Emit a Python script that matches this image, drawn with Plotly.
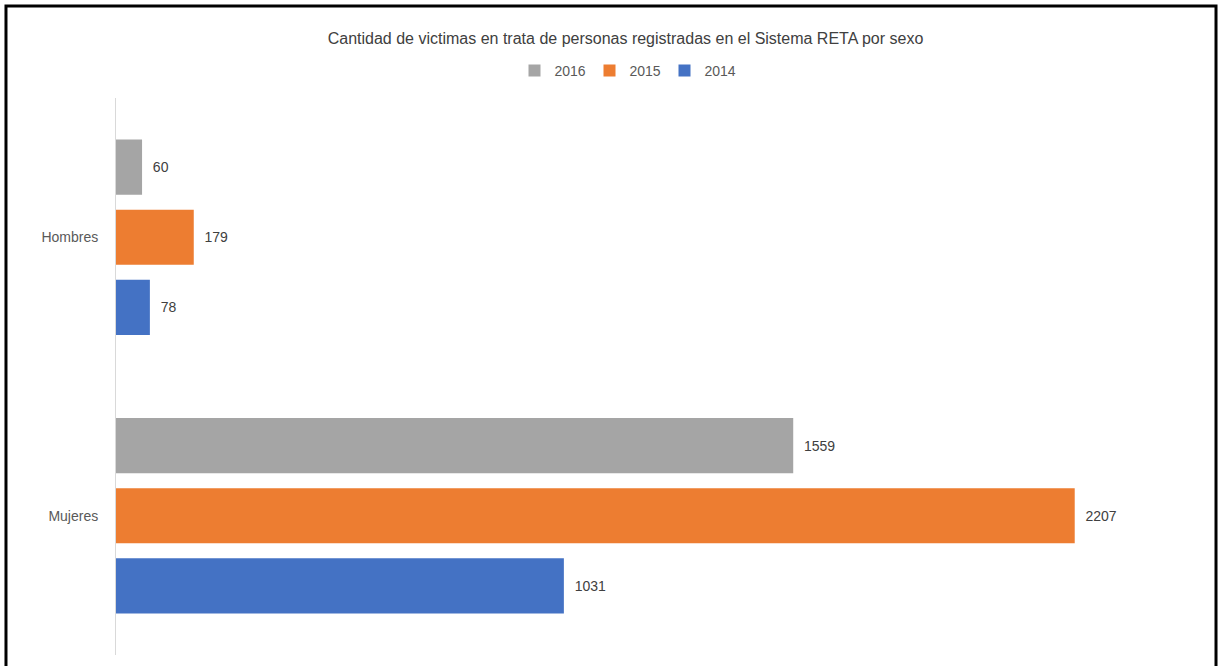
import plotly.graph_objects as go

categories = ["Hombres", "Mujeres"]
years = ["2014", "2015", "2016"]
values_2014 = [78, 1031]
values_2015 = [179, 2207]
values_2016 = [60, 1559]
colors = {"2014": "#4472C4", "2015": "#ED7D31", "2016": "#A5A5A5"}

series = {"2014": values_2014, "2015": values_2015, "2016": values_2016}

FONT = "Liberation Sans"

fig = go.Figure()
for yr in years:
    vals = series[yr]
    fig.add_trace(go.Bar(
        y=categories, x=vals, name=yr, orientation="h",
        marker=dict(color=colors[yr], line=dict(width=0)),
        text=[f"  {v}" for v in vals], textposition="outside",
        textfont=dict(size=14, color="#404040", family=FONT),
        cliponaxis=False,
    ))

fig.update_layout(
    width=1219, height=666,
    margin=dict(l=116, r=17, t=98, b=11),
    paper_bgcolor="white", plot_bgcolor="white",
    barmode="group", bargap=0.245, bargroupgap=0.214,
    title=dict(text="Cantidad de victimas en trata de personas registradas en el Sistema RETA por sexo",
               x=625.5 / 1219, xanchor="center", y=1 - 38 / 666, yanchor="middle",
               xref="container", yref="container",
               font=dict(size=16, color="#404040", family=FONT)),
    legend=dict(orientation="h", x=627 / 1219, xanchor="center", y=1 - 71 / 666, yanchor="middle",
                xref="container", yref="container", traceorder="reversed",
                itemwidth=30, entrywidth=30, entrywidthmode="pixels",
                font=dict(size=14, color="#595959", family=FONT)),
    showlegend=True,
    xaxis=dict(range=[0, 2500], showticklabels=False, showgrid=False, zeroline=False,
               showline=False, ticks=""),
    yaxis=dict(categoryorder="array", categoryarray=["Mujeres", "Hombres"],
               showline=True, linecolor="#D9D9D9", linewidth=1, ticks="",
               showgrid=False, ticklabelstandoff=14,
               tickfont=dict(size=14, color="#595959", family=FONT)),
    shapes=[dict(type="rect", xref="paper", yref="paper",
                 x0=-0.1013, x1=1.0129, y0=-0.05, y1=1.165,
                 line=dict(color="black", width=3), fillcolor="rgba(0,0,0,0)")],
)

fig.write_html("out.html", config={"displayModeBar": False},
               post_script="document.body.style.margin='0';document.body.style.overflow='hidden';")
